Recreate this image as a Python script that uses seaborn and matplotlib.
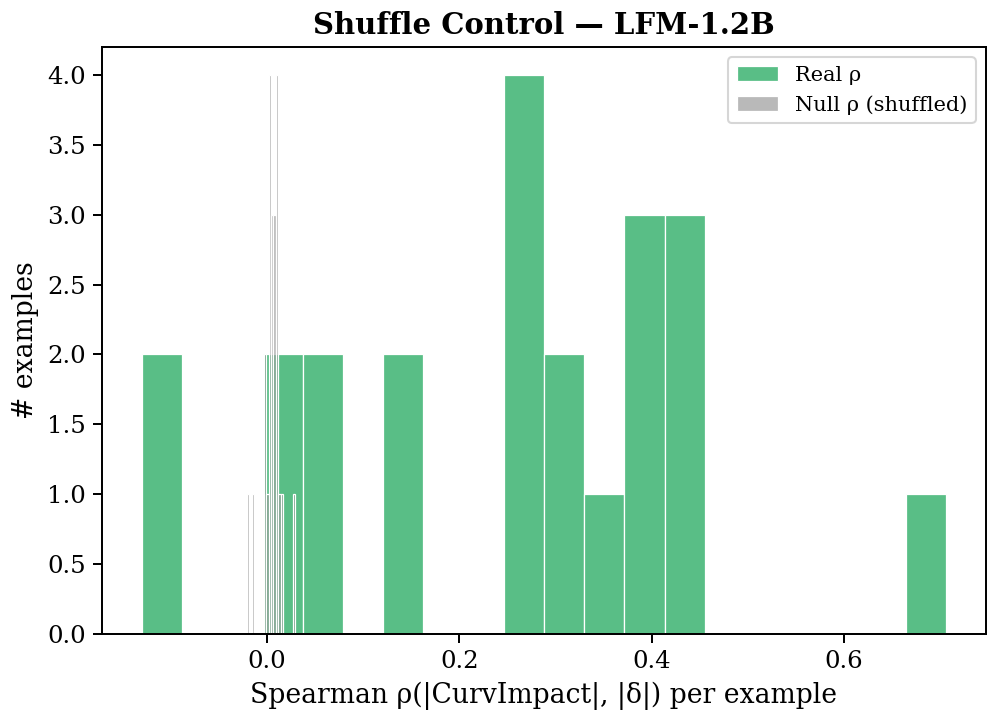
import numpy as np
import matplotlib
matplotlib.use("Agg")
import matplotlib.pyplot as plt
import seaborn as sns

# per-example Spearman rho, real vs shuffled control
real_rho = [-0.130, -0.105,
            0.005, 0.021,
            0.048, 0.066,
            0.131, 0.150,
            0.252, 0.262, 0.270, 0.281,
            0.296, 0.318,
            0.350,
            0.380, 0.395, 0.405,
            0.420, 0.433, 0.447,
            0.706]

null_rho = [-0.0210,
            -0.01475,
            -0.00225, -0.00225,
            0.00025,
            0.00275, 0.00275, 0.00275, 0.00275,
            0.00525, 0.00525, 0.00525,
            0.00775, 0.00775, 0.00775,
            0.01025, 0.01025, 0.01025, 0.01025,
            0.01275,
            0.01525,
            0.0290]

plt.rcParams["font.family"] = ["DejaVu Serif"]
plt.rcParams["axes.linewidth"] = 0.95
plt.rcParams["xtick.major.width"] = 0.95
plt.rcParams["ytick.major.width"] = 0.95
plt.rcParams["xtick.major.size"] = 4.1
plt.rcParams["ytick.major.size"] = 4.1

fig, ax = plt.subplots(figsize=(996 / 150, 722 / 150), dpi=150)
fig.subplots_adjust(left=102 / 996, right=986 / 996, top=1 - 47 / 722, bottom=1 - 634 / 722)

sns.histplot(x=real_rho, bins=20, color="mediumseagreen", alpha=0.85,
             edgecolor="white", linewidth=0.6, label="Real ρ", ax=ax)
sns.histplot(x=null_rho, bins=20, color="gray", alpha=0.55,
             edgecolor="white", linewidth=0.6, label="Null ρ (shuffled)", ax=ax)

ax.yaxis.set_major_formatter(matplotlib.ticker.FormatStrFormatter("%.1f"))
ax.tick_params(labelsize=11.7)
ax.set_xlabel("Spearman ρ(|CurvImpact|, |δ|) per example", fontsize=12.8)
ax.set_ylabel("# examples", fontsize=12.8)
ax.set_title("Shuffle Control — LFM-1.2B", fontsize=14, fontweight="bold")
ax.legend(loc="upper right", fontsize=10)

fig.savefig("out.png", dpi=150)
